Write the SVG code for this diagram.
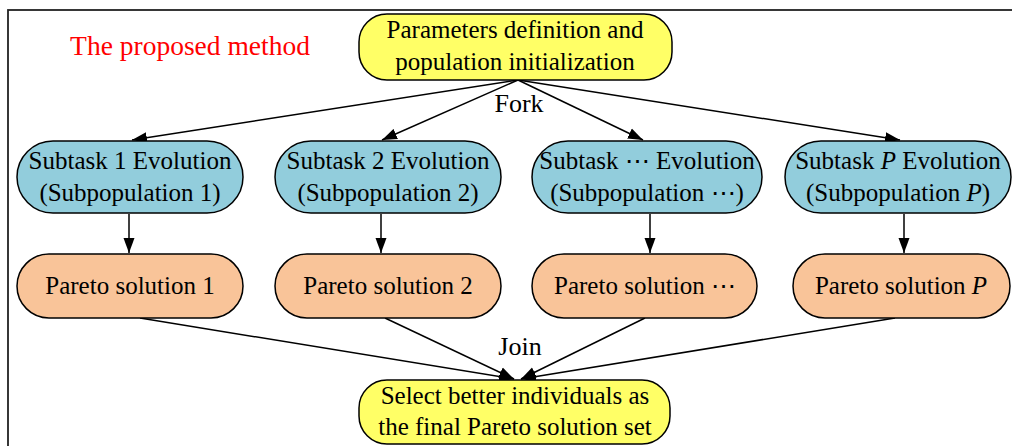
<svg xmlns="http://www.w3.org/2000/svg" width="1012" height="446" viewBox="0 0 1012 446">
<style>
text{font-family:"Liberation Serif","Times New Roman",serif;font-size:25px;fill:#000;text-anchor:middle}
.y{fill:#ffff66;stroke:#000;stroke-width:1.5}
.b{fill:#92cddc;stroke:#000;stroke-width:1.5}
.o{fill:#f9c499;stroke:#000;stroke-width:1.5}
.c{stroke:#000;stroke-width:1.5;fill:none;marker-end:url(#ah)}
.i{font-style:italic}
</style>
<defs>
<marker id="ah" markerUnits="userSpaceOnUse" markerWidth="16" markerHeight="12" refX="15" refY="6" orient="auto">
<path d="M0,0.5 L15,6 L0,11.5 Z" fill="#000"/>
</marker>
</defs>
<rect x="8" y="10" width="1100" height="500" fill="#fff" stroke="#222" stroke-width="1.8"/>
<text x="190" y="55" style="fill:#ff0000;font-size:27.5px">The proposed method</text>
<g id="connectors">
<line class="c" x1="518" y1="80" x2="132" y2="140"/>
<line class="c" x1="518" y1="80" x2="382" y2="140"/>
<line class="c" x1="518" y1="80" x2="643" y2="140"/>
<line class="c" x1="518" y1="80" x2="900" y2="140"/>
<line class="c" x1="129" y1="214" x2="129" y2="253"/>
<line class="c" x1="381" y1="214" x2="381" y2="253"/>
<line class="c" x1="650" y1="214" x2="650" y2="253"/>
<line class="c" x1="904" y1="214" x2="904" y2="253"/>
<line class="c" x1="140" y1="318" x2="514" y2="379"/>
<line class="c" x1="385" y1="318" x2="514" y2="379"/>
<line class="c" x1="645" y1="318" x2="521" y2="379"/>
<line class="c" x1="895" y1="318" x2="521" y2="379"/>
<text x="519" y="112" style="font-size:26px">Fork</text>
<text x="520" y="355" style="font-size:26px">Join</text>
</g>
<g id="init">
<rect class="y" x="359" y="14" width="313" height="66" rx="28"/>
<text x="515" y="38">Parameters definition and</text>
<text x="515" y="70">population initialization</text>
</g>
<g id="sub1">
<rect class="b" x="17" y="141" width="226" height="72" rx="36"/>
<text x="130" y="169">Subtask 1 Evolution</text>
<text x="130" y="201">(Subpopulation 1)</text>
</g>
<g id="sub2">
<rect class="b" x="275" y="141" width="226" height="72" rx="36"/>
<text x="388" y="169">Subtask 2 Evolution</text>
<text x="388" y="201">(Subpopulation 2)</text>
</g>
<g id="sub3">
<rect class="b" x="532" y="141" width="230" height="72" rx="36"/>
<text x="647" y="169">Subtask ⋯ Evolution</text>
<text x="647" y="201">(Subpopulation ⋯)</text>
</g>
<g id="subP">
<rect class="b" x="785" y="141" width="226" height="72" rx="36"/>
<text x="898" y="169">Subtask <tspan class="i">P</tspan> Evolution</text>
<text x="898" y="201">(Subpopulation <tspan class="i">P</tspan>)</text>
</g>
<g id="par1">
<rect class="o" x="17" y="254" width="226" height="64" rx="32"/>
<text x="130" y="294">Pareto solution 1</text>
</g>
<g id="par2">
<rect class="o" x="275" y="254" width="226" height="64" rx="32"/>
<text x="388" y="294">Pareto solution 2</text>
</g>
<g id="par3">
<rect class="o" x="532" y="254" width="225" height="64" rx="32"/>
<text x="645" y="294">Pareto solution ⋯</text>
</g>
<g id="parP">
<rect class="o" x="793" y="254" width="217" height="64" rx="32"/>
<text x="901" y="294">Pareto solution <tspan class="i">P</tspan></text>
</g>
<g id="final">
<rect class="y" x="359" y="380" width="311" height="64" rx="28"/>
<text x="515" y="404">Select better individuals as</text>
<text x="515" y="435">the final Pareto solution set</text>
</g>
</svg>
